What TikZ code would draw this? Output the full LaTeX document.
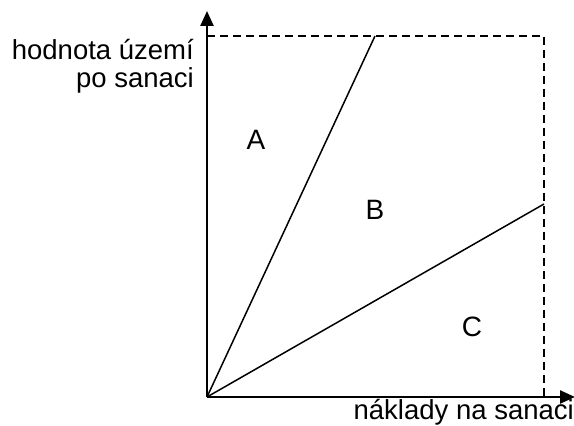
\documentclass[tikz,border=0pt]{standalone}
\usepackage{fontspec}
\setmainfont{Liberation Sans}
\usetikzlibrary{arrows.meta, positioning}
\tikzset{
  axis/.style={line width=2.4pt, -{Triangle[length=15pt, width=13pt]}},
  ray/.style={line width=1.5pt},
  bound/.style={line width=1.5pt, dash pattern=on 8pt off 5pt},
  region/.style={font=\fontsize{28}{29}\selectfont},
  caption/.style={font=\fontsize{27.5}{28.5}\selectfont, align=right, inner sep=0pt}
}
\begin{document}
\begin{tikzpicture}[x=1pt, y=1pt]
  \useasboundingbox (0,0) rectangle (574,426);

  \coordinate (origin) at (207,29);
  \coordinate (ytip) at (207,415);
  \coordinate (xtip) at (575,29);
  \coordinate (corner) at (544,390);
  \coordinate (topleft) at (207,390);
  \coordinate (botright) at (544,29);
  \coordinate (steep) at (375,390);
  \coordinate (flat) at (544,222);

  \draw [bound] (topleft) -- (corner) -- (botright);
  \draw [ray] (origin) -- (steep);
  \draw [ray] (origin) -- (flat);
  \draw [axis] (origin) -- (ytip);
  \draw [axis] (origin) -- (xtip);

  \node (ylabel) [caption, anchor=east] at (194,360) {hodnota území\\po sanaci};
  \node (xlabel) [caption, anchor=base east] at (574,6.5) {náklady na sanaci};

  \node (A) [region] at (256,286) {A};
  \node (B) [region] at (375,216) {B};
  \node (C) [region] at (472,99) {C};
\end{tikzpicture}
\end{document}
